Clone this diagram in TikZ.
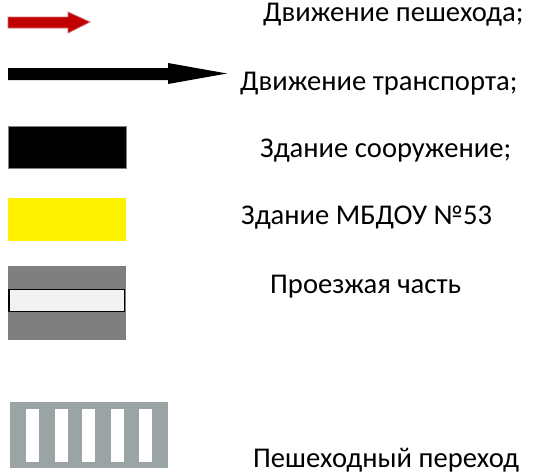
\documentclass[tikz,border=0pt]{standalone}
\usepackage{fontspec}
\setmainfont{Carlito}
\usepackage{tikz}
\definecolor{walkred}{HTML}{C00000}
\definecolor{walkedge}{HTML}{D86A6A}
\definecolor{roadgray}{HTML}{7F7F7F}
\definecolor{lanewhite}{HTML}{F2F2F2}
\definecolor{zebragray}{HTML}{9AA4A4}
\tikzstyle{legendtext} = [anchor=base west, inner sep=0pt, font=\fontsize{28.6}{32}\selectfont]
\tikzstyle{block} = [line width=0.8pt]

\begin{document}
\begin{tikzpicture}[x=1pt, y=-1pt]
\useasboundingbox (0,0) rectangle (535,474);
% pedestrian arrow
\filldraw [fill=walkred, draw=walkedge, line width=0.8pt] (8,17) -- (68,17) -- (68,12) -- (90,22) -- (68,33) -- (68,28) -- (8,28) -- cycle;
% traffic arrow
\fill [black] (8,68) -- (168,68) -- (168,63) -- (227,73.5) -- (168,84) -- (168,80) -- (8,80) -- cycle;
% building
\filldraw [block, fill=black, draw=gray] (8,126) rectangle (126,168);
% kindergarten
\fill [yellow] (8,198) rectangle (126,241);
% roadway
\fill [roadgray] (8,266) rectangle (126,340);
\filldraw [fill=lanewhite, draw=black, line width=1.2pt] (9,289.5) rectangle (124.5,311.5);
% crossing
\fill [zebragray] (10,402) rectangle (168,468);
\foreach \sx in {26,54.5,82,111,139}
  \fill [white] (\sx,409) rectangle ++(13,53);
% labels
\node (walk) [legendtext] at (263,21) {Движение пешехода;};
\node (traffic) [legendtext] at (240,90) {Движение транспорта;};
\node (building) [legendtext] at (260,157) {Здание сооружение;};
\node (school) [legendtext] at (241,224) {Здание МБДОУ №53};
\node (road) [legendtext] at (270,293) {Проезжая часть};
\node (zebra) [legendtext] at (253,467) {Пешеходный переход};
\end{tikzpicture}
\end{document}
